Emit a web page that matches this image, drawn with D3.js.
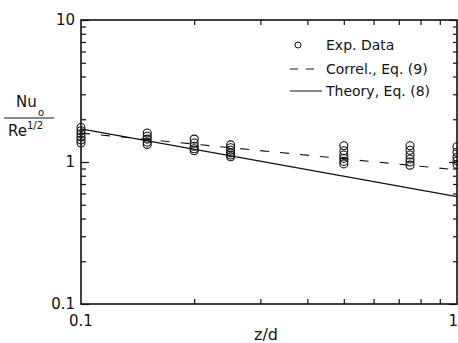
<!DOCTYPE html>
<html>
<head>
<meta charset="utf-8">
<script src="https://cdn.jsdelivr.net/npm/d3@7"></script>
<style>
  html, body { margin: 0; padding: 0; background: #fff; }
  svg { display: block; }
  text { font-family: "DejaVu Sans", sans-serif; fill: #111; }
</style>
</head>
<body>
<svg id="chart" width="458" height="343"></svg>
<script>
// Axial stations z/d and measured Nu_o / Re^(1/2) at each station
const stations = [0.1, 0.15, 0.2, 0.25, 0.5, 0.75, 1.0];
const expValues = [
  [1.75, 1.66, 1.58, 1.50, 1.43, 1.36],
  [1.60, 1.52, 1.45, 1.38, 1.33],
  [1.45, 1.36, 1.29, 1.24, 1.20],
  [1.32, 1.26, 1.21, 1.16, 1.12, 1.09],
  [1.30, 1.20, 1.12, 1.06, 1.01, 0.97],
  [1.30, 1.21, 1.12, 1.05, 1.00, 0.95],
  [1.28, 1.17, 1.08, 1.02, 0.96]
];

// Correlation, Eq. (9) and theory, Eq. (8): straight lines on log-log axes
const correlZ = [0.1, 1.0];
const correlNu = [1.60, 0.88];
const theoryZ = [0.1, 1.0];
const theoryNu = [1.71, 0.57];

const xTickLabels = [0.1, 1];
const yTickLabels = [0.1, 1, 10];

const svg = d3.select("#chart");
const plotL = 81, plotR = 457, plotT = 20, plotB = 304;

const x = d3.scaleLog().domain([0.1, 1]).range([plotL, plotR]);
const y = d3.scaleLog().domain([0.1, 10]).range([plotB, plotT]);

const isMajor = v => Math.abs(Math.log10(v) - Math.round(Math.log10(v))) < 1e-9;
const xMinor = x.ticks().filter(v => !isMajor(v));
const yMinor = y.ticks().filter(v => !isMajor(v));
const yMajor = y.ticks().filter(isMajor);

function styleAxis(g) {
  g.select(".domain").remove();
  g.selectAll(".tick line").attr("stroke", "#111").attr("stroke-width", 1.2);
  g.selectAll(".tick text").remove();
}

// Inward ticks on all four sides
svg.append("g").attr("transform", `translate(${plotL},0)`)
  .call(d3.axisLeft(y).tickValues(yMinor).tickSize(-5)).call(styleAxis);
svg.append("g").attr("transform", `translate(${plotL},0)`)
  .call(d3.axisLeft(y).tickValues(yMajor).tickSize(-8)).call(styleAxis);
svg.append("g").attr("transform", `translate(${plotR},0)`)
  .call(d3.axisRight(y).tickValues(yMinor).tickSize(-4)).call(styleAxis);
svg.append("g").attr("transform", `translate(${plotR},0)`)
  .call(d3.axisRight(y).tickValues(yMajor).tickSize(-8)).call(styleAxis);
svg.append("g").attr("transform", `translate(0,${plotB})`)
  .call(d3.axisBottom(x).tickValues(xMinor).tickSize(-5)).call(styleAxis);
svg.append("g").attr("transform", `translate(0,${plotT})`)
  .call(d3.axisTop(x).tickValues(xMinor).tickSize(-5)).call(styleAxis);

// Frame
svg.append("rect")
  .attr("x", plotL).attr("y", plotT)
  .attr("width", plotR - plotL).attr("height", plotB - plotT)
  .attr("fill", "none").attr("stroke", "#111").attr("stroke-width", 1.6);

// Tick labels
svg.selectAll("text.ylab").data(yTickLabels).join("text")
  .attr("class", "ylab")
  .attr("x", plotL - 6).attr("y", d => y(d) + 5)
  .attr("text-anchor", "end").attr("font-size", 15)
  .text(d => d);
// the last x label sits at the window edge, so it is right-aligned there
svg.selectAll("text.xlab").data(xTickLabels).join("text")
  .attr("class", "xlab")
  .attr("x", (d, i) => i === xTickLabels.length - 1 ? x(d) + 1 : x(d))
  .attr("y", plotB + 22)
  .attr("text-anchor", (d, i) => i === xTickLabels.length - 1 ? "end" : "middle")
  .attr("font-size", 15)
  .text(d => d);

// Axis titles
svg.append("text").attr("x", 266).attr("y", 340)
  .attr("text-anchor", "middle").attr("font-size", 16).text("z/d");

const yTitle = svg.append("g");
yTitle.append("text").attr("x", 16).attr("y", 107).attr("font-size", 15)
  .text("Nu");
yTitle.append("text").attr("x", 38).attr("y", 116).attr("font-size", 10)
  .text("o");
yTitle.append("line").attr("x1", 4).attr("x2", 54).attr("y1", 118).attr("y2", 118)
  .attr("stroke", "#111").attr("stroke-width", 1);
const re = yTitle.append("text").attr("x", 8).attr("y", 136).attr("font-size", 15);
re.append("tspan").text("Re");
re.append("tspan").attr("dy", -7).attr("font-size", 10).text("1/2");

// Model lines
const line = d3.line().x(d => x(d[0])).y(d => y(d[1]));
svg.append("path")
  .datum(d3.zip(theoryZ, theoryNu))
  .attr("d", line).attr("fill", "none")
  .attr("stroke", "#111").attr("stroke-width", 1.1);
svg.append("path")
  .datum(d3.zip(correlZ, correlNu))
  .attr("d", line).attr("fill", "none")
  .attr("stroke", "#111").attr("stroke-width", 1.1)
  .attr("stroke-dasharray", "9,11");

// Experimental points
const pts = [];
stations.forEach((z, i) => expValues[i].forEach(v => pts.push([z, v])));
svg.append("g").selectAll("circle").data(pts).join("circle")
  .attr("cx", d => x(d[0])).attr("cy", d => y(d[1]))
  .attr("r", 4).attr("fill", "none")
  .attr("stroke", "#111").attr("stroke-width", 1.1);

// Legend
const lg = svg.append("g").attr("font-size", 14);
lg.append("circle").attr("cx", 298).attr("cy", 45).attr("r", 3)
  .attr("fill", "none").attr("stroke", "#111").attr("stroke-width", 1);
lg.append("text").attr("x", 326).attr("y", 50).text("Exp. Data");
lg.append("line").attr("x1", 290).attr("x2", 322).attr("y1", 69).attr("y2", 69)
  .attr("stroke", "#111").attr("stroke-dasharray", "8,8");
lg.append("text").attr("x", 326).attr("y", 74).text("Correl., Eq. (9)");
lg.append("line").attr("x1", 290).attr("x2", 322).attr("y1", 91).attr("y2", 91)
  .attr("stroke", "#111");
lg.append("text").attr("x", 326).attr("y", 96).text("Theory, Eq. (8)");
</script>
</body>
</html>
